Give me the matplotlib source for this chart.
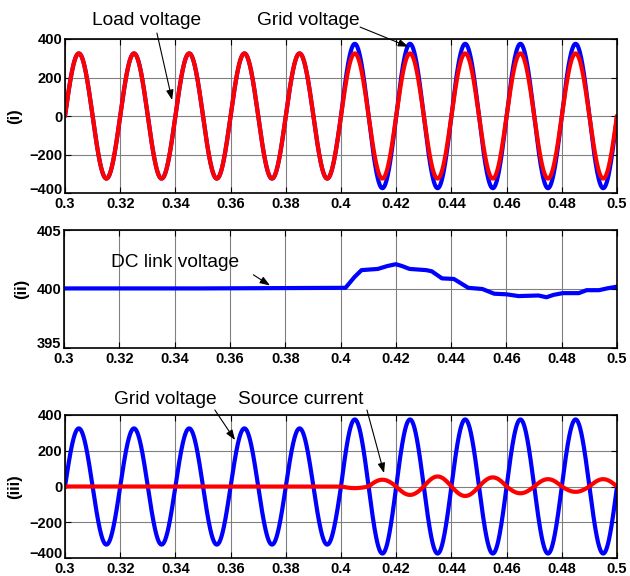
import numpy as np
import matplotlib
matplotlib.use("Agg")
import matplotlib.pyplot as plt
import matplotlib.transforms as mtransforms

plt.rcParams['font.family'] = ['Liberation Sans', 'DejaVu Sans']

# ---------------- data ----------------
freq_hz = 50.0
t_start, t_end = 0.3, 0.5
# signed extreme value reached in each half cycle (0.3-0.31, 0.31-0.32, ...)
load_voltage_peaks = [325, -325, 325, -325, 325, -325, 325, -325, 325, -325,
                      325, -325, 325, -325, 325, -325, 325, -325, 325, -325]
grid_voltage_peaks = [325, -325, 325, -325, 325, -325, 325, -325, 325, -325,
                      375, -375, 375, -375, 375, -375, 375, -375, 375, -375]
source_current_peaks = [0, 0, 0, 0, 0, 0, 0, 0, 0, 0,
                        -9, 38, -47, 56, -53, 51, -38, 41, -30, 41]

dc_time = [0.300, 0.350, 0.4018, 0.4050, 0.4076, 0.4135, 0.4170, 0.4200,
           0.4222, 0.4250, 0.4310, 0.4330, 0.4367, 0.4410, 0.4462, 0.4513,
           0.4556, 0.4600, 0.4644, 0.4716, 0.4745, 0.4770, 0.4804, 0.4862,
           0.4890, 0.4935, 0.4964, 0.5000]
dc_voltage = [400.05, 400.05, 400.1, 401.0, 401.6, 401.7, 401.95, 402.1,
              401.95, 401.7, 401.6, 401.5, 400.9, 400.85, 400.1, 400.0,
              399.6, 399.55, 399.4, 399.45, 399.3, 399.5, 399.65, 399.65,
              399.9, 399.9, 400.05, 400.2]

xticks = [0.3, 0.32, 0.34, 0.36, 0.38, 0.4, 0.42, 0.44, 0.46, 0.48, 0.5]
xticklabels = ['0.3', '0.32', '0.34', '0.36', '0.38', '0.4', '0.42', '0.44',
               '0.46', '0.48', '0.5']
ac_yticks = [-400, -200, 0, 200, 400]
dc_yticks = [395, 400, 405]


def half_cycle_wave(peaks, n_per_half=200):
    """Build a waveform from per-half-cycle peak values."""
    half = 1.0 / freq_hz / 2.0
    ts, vs = [], []
    for k, p in enumerate(peaks):
        tt = t_start + k * half + np.linspace(0, half, n_per_half, endpoint=(k == len(peaks) - 1))
        ts.append(tt)
        vs.append(p * np.abs(np.sin(2 * np.pi * freq_hz * (tt - t_start))))
    return np.concatenate(ts), np.concatenate(vs)


t_load, v_load = half_cycle_wave(load_voltage_peaks)
t_grid, v_grid = half_cycle_wave(grid_voltage_peaks)
t_cur, i_src = half_cycle_wave(source_current_peaks)

# ---------------- figure ----------------
fig = plt.figure(figsize=(6.3, 5.76), dpi=100)
W, H = 630.0, 576.0


def add_ax(left, top, right, bottom):
    return fig.add_axes([left / W, 1 - bottom / H, (right - left) / W, (bottom - top) / H])


ax1 = add_ax(65, 39, 617, 193)
ax2 = add_ax(64, 230, 617, 348)
ax3 = add_ax(65, 415, 617, 558)

BLUE = '#0000ff'
RED = '#ff0000'
LW = 3.0

ax1.plot(t_grid, v_grid, color=BLUE, lw=LW, solid_capstyle='round')
ax1.plot(t_load, v_load, color=RED, lw=LW, solid_capstyle='round')

ax2.plot(dc_time, dc_voltage, color=BLUE, lw=LW)

ax3.plot(t_grid, v_grid, color=BLUE, lw=LW)
ax3.plot(t_cur, i_src, color=RED, lw=LW)

shift_up = mtransforms.ScaledTranslation(0, 5 / 100.0, fig.dpi_scale_trans)

for ax, ylim, yticks, ylabel in [(ax1, (-400, 400), ac_yticks, '(i)'),
                                 (ax2, (395, 405), dc_yticks, '(ii)'),
                                 (ax3, (-400, 400), ac_yticks, '(iii)')]:
    ax.set_xlim(t_start, t_end)
    ax.set_ylim(*ylim)
    ax.set_xticks(xticks)
    ax.set_xticklabels(xticklabels)
    ax.set_yticks(yticks)
    ax.grid(True, color='#808080', lw=0.8, ls='-')
    ax.set_axisbelow(True)
    ax.tick_params(direction='in', length=4, width=0.8, top=True, right=True,
                   labelsize=10.5, pad=2)
    ax.tick_params(axis='x', pad=3)
    for lab in ax.get_xticklabels() + ax.get_yticklabels():
        lab.set_fontweight('bold')
    # lift the lowest y label a little so it does not collide with the first x label
    low = ax.get_yticklabels()[0]
    low.set_transform(low.get_transform() + shift_up)
    for sp in ax.spines.values():
        sp.set_linewidth(1.2)
        sp.set_color('black')
    ax.set_ylabel(ylabel, fontsize=12, fontweight='bold', labelpad=5)

TXT = 13.8
arrow = dict(arrowstyle='-|>,head_length=0.6,head_width=0.22', color='black', lw=0.8,
             shrinkA=0, shrinkB=0)

# panel (i)
ax1.text(0.3297, 497, 'Load voltage', ha='center', va='center', fontsize=TXT)
ax1.annotate('', xy=(0.3388, 83), xytext=(0.3333, 431), arrowprops=arrow,
             annotation_clip=False)
ax1.text(0.3882, 497, 'Grid voltage', ha='center', va='center', fontsize=TXT)
ax1.annotate('', xy=(0.4244, 360), xytext=(0.4069, 462), arrowprops=arrow,
             annotation_clip=False)

# panel (ii)
ax2.text(0.340, 402.25, 'DC link voltage', ha='center', va='center', fontsize=TXT)
ax2.annotate('', xy=(0.3745, 400.3), xytext=(0.3685, 401.2), arrowprops=arrow)

# panel (iii)
ax3.text(0.3362, 484, 'Grid voltage', ha='center', va='center', fontsize=TXT)
ax3.annotate('', xy=(0.3616, 260), xytext=(0.3543, 428), arrowprops=arrow,
             annotation_clip=False)
ax3.text(0.3853, 484, 'Source current', ha='center', va='center', fontsize=TXT)
ax3.annotate('', xy=(0.4156, 75), xytext=(0.4094, 428), arrowprops=arrow,
             annotation_clip=False)

fig.savefig('out.png', dpi=100)
